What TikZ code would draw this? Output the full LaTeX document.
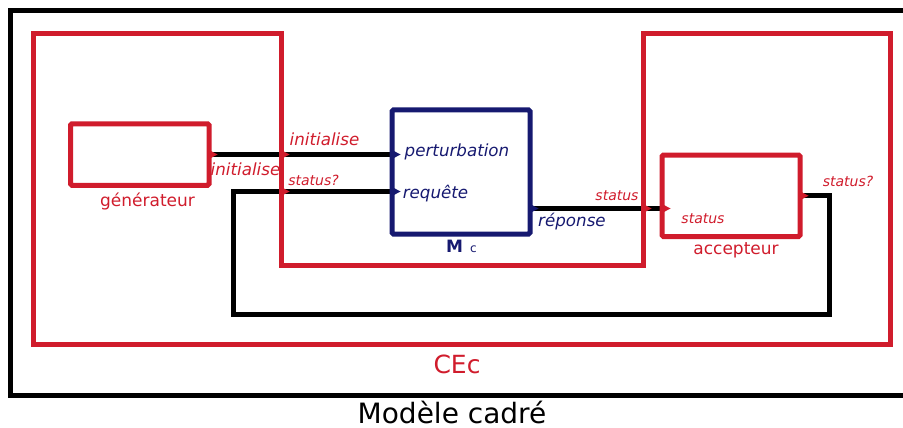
\documentclass[tikz,border=0pt]{standalone}
\usepackage{fontspec}
\setmainfont{DejaVu Sans}
\usetikzlibrary{backgrounds,calc}
\definecolor{cred}{RGB}{208,28,44}
\definecolor{cnavy}{RGB}{22,25,112}
\tikzset{
  every node/.style={inner sep=0pt, outer sep=0pt},
  boxR/.style={draw=cred, line width=5pt, rounded corners=1.5pt, rectangle},
  boxN/.style={draw=cnavy, line width=5pt, rounded corners=1.5pt, rectangle},
  conn/.style={draw=black, line width=5pt},
  frameR/.style={draw=cred, line width=5pt},
  frameK/.style={draw=black, line width=5pt},
  lblR/.style={text=cred, font=\fontsize{16.7}{18}\selectfont\itshape, anchor=base},
  lblN/.style={text=cnavy, font=\fontsize{16.7}{18}\selectfont\itshape, anchor=base},
  smallR/.style={text=cred, font=\fontsize{14}{16}\selectfont\itshape, anchor=base},
  nameR/.style={text=cred, font=\fontsize{17}{19}\selectfont, anchor=base},
}
\newcommand\portmark[2]{\fill[#2] ($(#1)+(0,-4.5)$) -- ($(#1)+(8.5,0)$) -- ($(#1)+(0,4.5)$) -- cycle;}
\begin{document}
\begin{tikzpicture}[x=1pt,y=-1pt]
\useasboundingbox (0,0) rectangle (903,428);
% outer frame
\draw[frameK] (10.5,10.5) rectangle (915,395);
% boxes
\node[boxR, minimum width=138.5pt, minimum height=61.5pt] (gen) at (139.75,154.5) {};
\node[boxN, minimum width=138pt, minimum height=124pt] (mc) at (461,172) {};
\node[boxR, minimum width=138pt, minimum height=81.5pt] (acc) at (731,195.75) {};
% port coordinates
\coordinate (pPert) at (gen.east -| mc.west);
\coordinate (pReq) at ($(mc.north west)+(0,81.5)$);
\coordinate (pRep) at ($(mc.north east)+(0,98.5)$);
\coordinate (pAccIn) at (pRep -| acc.west);
\coordinate (bInit) at (281,154.5);
\coordinate (bStat) at (281,191.5);
\coordinate (bRep) at (643,208.5);
\coordinate (loopR) at (829,314);
\coordinate (loopL) at (233,314);
% connectors
\begin{scope}[on background layer]
\draw[conn] (gen.east) -- (pPert);
\draw[conn] (acc.east) -| (loopR) -- (loopL) |- (pReq);
\draw[conn] (pRep) -- (pAccIn);
\end{scope}
% CEc frame
\draw[frameR] (33.5,33.5) -- (281,33.5) -- (281,265) -- (643,265) -- (643,33.5) -- (890,33.5) -- (890,344) -- (33.5,344) -- cycle;
% ports
\portmark{gen.east}{cred}
\portmark{bInit}{cred}
\portmark{bStat}{cred}
\portmark{pPert}{cnavy}
\portmark{pReq}{cnavy}
\portmark{pRep}{cnavy}
\portmark{bRep}{cred}
\portmark{pAccIn}{cred}
\portmark{acc.east}{cred}
% labels
\node[lblR] (tInit1) at (324.5,145) {initialise};
\node[lblR] (tInit2) at (245.5,175) {initialise};
\node[smallR] (tStq1) at (313.5,185) {status?};
\node[lblN] (tPert) at (457,156) {perturbation};
\node[lblN] (tReq) at (435.5,198) {requête};
\node[lblN] (tRep) at (572,226) {réponse};
\node[smallR] (tSt1) at (617,200.5) {status};
\node[smallR] (tSt2) at (703,223) {status};
\node[smallR] (tStq2) at (848,186) {status?};
\node[nameR] (tGen) at (147.5,206.5) {générateur};
\node[nameR] (tAcc) at (736,254) {accepteur};
\node[text=cnavy, anchor=base] (tMc) at (461.5,252.5) {{\fontsize{17}{18}\selectfont\bfseries M}\hspace{7pt}{\fontsize{12}{13}\selectfont c}};
\node[text=cred, font=\fontsize{25}{28}\selectfont, anchor=base] (tCEc) at (457,373.3) {CEc};
\node[text=black, font=\fontsize{28}{31}\selectfont, anchor=base] (tTitle) at (452,423) {Modèle cadré};
\end{tikzpicture}
\end{document}
